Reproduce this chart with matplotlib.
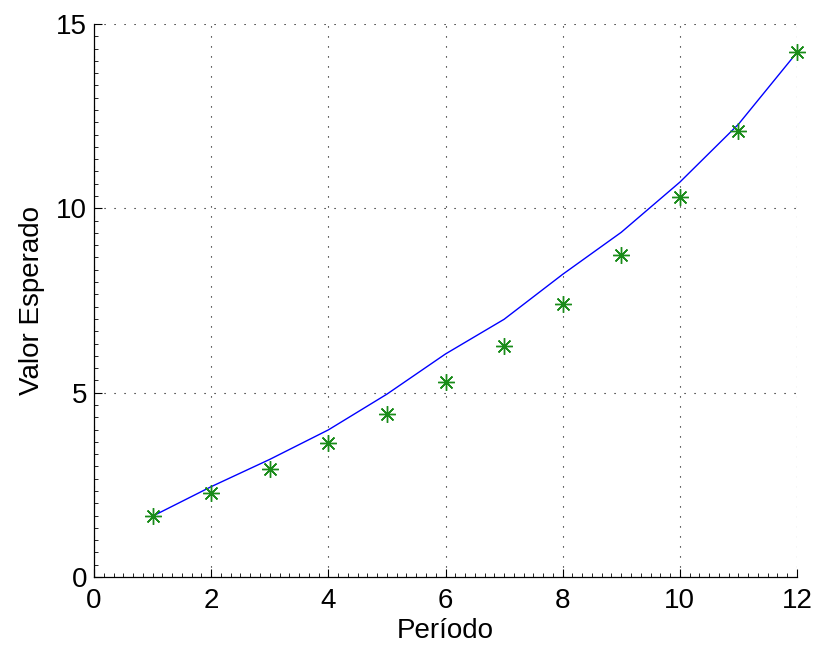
import matplotlib
matplotlib.use("Agg")
import matplotlib.pyplot as plt
from matplotlib.ticker import MultipleLocator

periodo = [1, 2, 3, 4, 5, 6, 7, 8, 9, 10, 11, 12]
valor_teorico = [1.65, 2.45, 3.19, 3.99, 4.96, 6.05, 6.99, 8.21, 9.35, 10.71, 12.28, 14.23]
valor_simulado = [1.65, 2.27, 2.93, 3.63, 4.41, 5.28, 6.27, 7.41, 8.74, 10.30, 12.10, 14.23]
xticks = [0, 2, 4, 6, 8, 10, 12]
yticks = [0, 5, 10, 15]

plt.rcParams['font.family'] = ['Liberation Sans', 'DejaVu Sans']

fig = plt.figure(figsize=(8.17, 6.48), dpi=100)
ax = fig.add_axes([94/817, 1-577/648, (797-94)/817, (577-24)/648])

ax.plot(periodo, valor_teorico, color=(0, 0, 1), lw=1.0, zorder=3, clip_on=False)
ax.plot(periodo, valor_simulado, linestyle='none', marker=(8, 2, 0), markersize=12,
        markeredgecolor=(0.1, 0.55, 0.1), markeredgewidth=1.0, zorder=4, clip_on=False)

ax.set_xlim(0, 12)
ax.set_ylim(0, 15)
ax.set_xticks(xticks)
ax.set_yticks(yticks)
ax.xaxis.set_minor_locator(MultipleLocator(2/12))
ax.yaxis.set_minor_locator(MultipleLocator(5/15))

ax.grid(True, which='major', linestyle=(0, (1, 8)), color='black', linewidth=0.8)
for s in ['top', 'right']:
    ax.spines[s].set_visible(False)
for s in ['left', 'bottom']:
    ax.spines[s].set_linewidth(0.9)

ax.tick_params(which='major', direction='in', length=6, width=0.8, labelsize=20)
ax.tick_params(axis='x', which='major', pad=8)
ax.tick_params(axis='y', which='major', pad=5)
ax.tick_params(which='minor', direction='in', length=3, width=0.6)

ax.set_xlabel('Período', fontsize=20, labelpad=3)
ax.set_ylabel('Valor Esperado', fontsize=20, labelpad=8)

fig.savefig('out.png', dpi=100)
